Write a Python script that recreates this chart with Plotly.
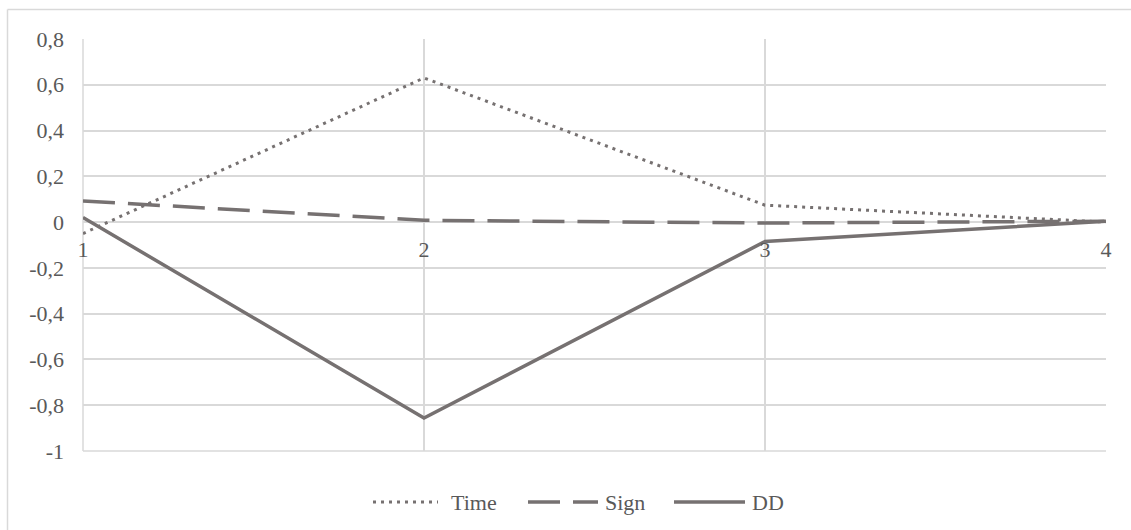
import plotly.graph_objects as go

x_vals = [1, 2, 3, 4]
time_vals = [-0.05, 0.63, 0.074, 0.0]
sign_vals = [0.092, 0.008, -0.004, 0.004]
dd_vals = [0.02, -0.856, -0.085, 0.004]
series_names = ["Time", "Sign", "DD"]

y_tickvals = [0.8, 0.6, 0.4, 0.2, 0, -0.2, -0.4, -0.6, -0.8, -1]
y_ticktext = ["0,8", "0,6", "0,4", "0,2", "0", "-0,2", "-0,4", "-0,6", "-0,8", "-1"]

color = "#767171"
grid = "#d9d9d9"
txt = "#595959"
font = "Liberation Serif, Times New Roman, serif"
fs = 22

dash_time = "3px,5px"
dash_sign = "32px,13px"

fig = go.Figure()
fig.add_trace(go.Scatter(x=x_vals, y=time_vals, name=series_names[0], mode="lines",
                         line=dict(color=color, width=3, dash=dash_time), showlegend=False))
fig.add_trace(go.Scatter(x=x_vals, y=sign_vals, name=series_names[1], mode="lines",
                         line=dict(color=color, width=3.5, dash=dash_sign), showlegend=False))
fig.add_trace(go.Scatter(x=x_vals, y=dd_vals, name=series_names[2], mode="lines",
                         line=dict(color=color, width=3.5), showlegend=False))

W, H = 1131, 530
L, R, T, B = 83, 25, 39, 79
pw, ph = W - L - R, H - T - B
y0, y1 = -1.0, 0.8
zero_pos = (0 - y0) / (y1 - y0)

def px_x(p):
    return (p - L) / pw

def px_y(p):
    return (H - B - p) / ph

shapes = [
    dict(type="line", xref="paper", yref="paper", x0=px_x(7.5), x1=px_x(1140),
         y0=px_y(9.5), y1=px_y(9.5), line=dict(color=grid, width=1.5), layer="below"),
    dict(type="line", xref="paper", yref="paper", x0=px_x(7.5), x1=px_x(7.5),
         y0=px_y(9.5), y1=px_y(540), line=dict(color=grid, width=1.5), layer="below"),
    dict(type="line", xref="paper", yref="paper", x0=0, x1=0, y0=0, y1=1,
         line=dict(color=grid, width=1.5), layer="below"),
    dict(type="line", xref="paper", yref="paper", x0=0, x1=1, y0=0, y1=0,
         line=dict(color=grid, width=1.5), layer="below"),
]

# custom legend (line samples + names)
leg_y = 502
leg_items = [
    (series_names[0], 373, 438, 449, dict(color=color, width=3, dash=dash_time)),
    (series_names[1], 528, 598, 603, dict(color=color, width=3.5, dash=dash_sign)),
    (series_names[2], 674, 745, 750, dict(color=color, width=3.5)),
]
annotations = []
for name, xa, xb, xt, ln in leg_items:
    shapes.append(dict(type="line", xref="paper", yref="paper", x0=px_x(xa), x1=px_x(xb),
                       y0=px_y(leg_y), y1=px_y(leg_y), line=ln))
    annotations.append(dict(text=name, xref="paper", yref="paper", x=px_x(xt), y=px_y(leg_y),
                            xanchor="left", yanchor="middle", showarrow=False,
                            font=dict(family=font, size=fs, color=txt)))

fig.update_layout(
    width=W, height=H,
    margin=dict(l=L, r=R, t=T, b=B),
    paper_bgcolor="white", plot_bgcolor="white",
    font=dict(family=font, size=fs, color=txt),
    showlegend=False,
    xaxis=dict(range=[1, 4], tickvals=x_vals, ticktext=[str(v) for v in x_vals],
               showgrid=True, gridcolor=grid, gridwidth=1.5, zeroline=False,
               showline=False, ticks="", anchor="free", position=zero_pos,
               tickfont=dict(family=font, size=fs, color=txt), ticklabelstandoff=12),
    yaxis=dict(range=[y0, y1], tickvals=y_tickvals, ticktext=y_ticktext,
               showgrid=True, gridcolor=grid, gridwidth=1.5, zeroline=False,
               showline=False, ticks="", domain=[0, 1],
               tickfont=dict(family=font, size=fs, color=txt), ticklabelstandoff=18),
    shapes=shapes,
    annotations=annotations,
)

fig.write_html("out.html", config={"displayModeBar": False},
               post_script="document.body.style.margin='0';")
